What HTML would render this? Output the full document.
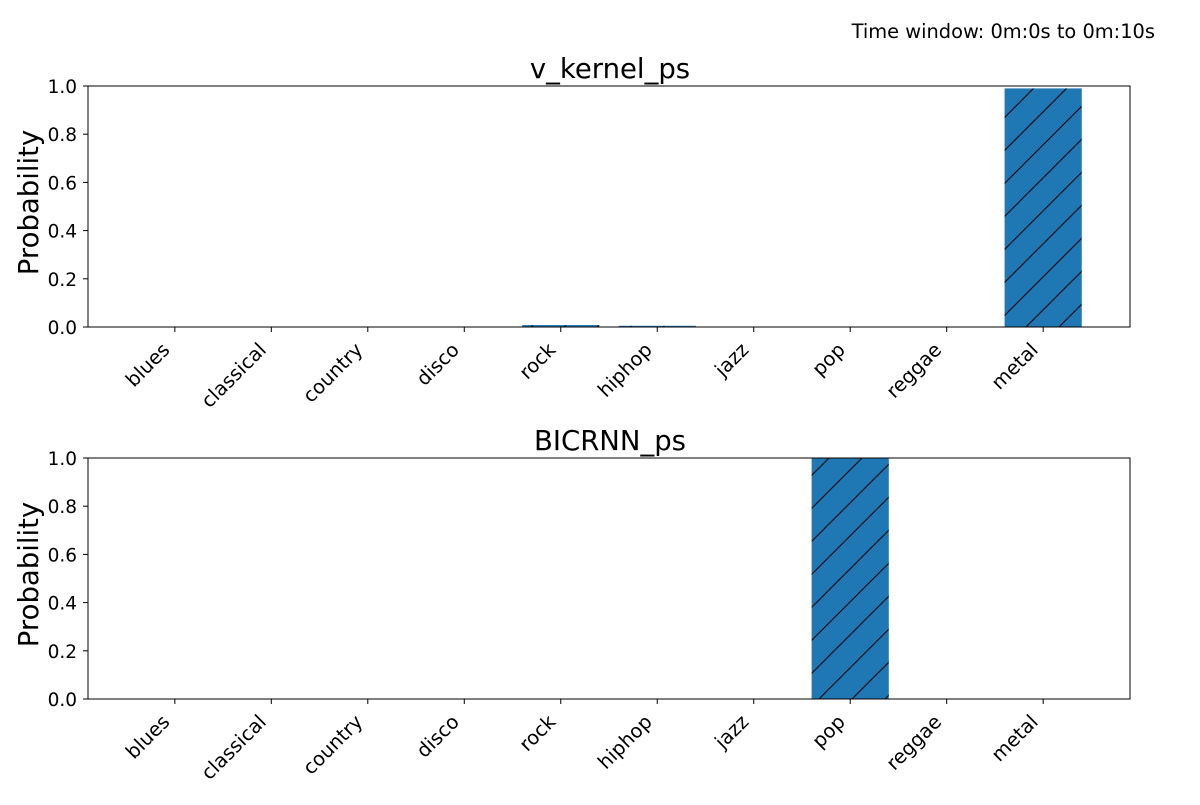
<!DOCTYPE html>
<html><head><meta charset="utf-8"><style>
body{margin:0;background:#fff;}
svg{font-family:"DejaVu Sans","Liberation Sans",sans-serif;}
</style></head><body>
<svg id="c" width="1200" height="800" xmlns="http://www.w3.org/2000/svg">
<defs>
<pattern id="hatch" patternUnits="userSpaceOnUse" width="33" height="33">
<rect width="33" height="33" fill="#1f77b4"/>
<path d="M0,33 L33,0 M-5,5 L5,-5 M28,38 L38,28" stroke="#000" stroke-width="1"/>
</pattern>
</defs>
<text x="1155" y="38" font-size="19.4" text-anchor="end">Time window: 0m:0s to 0m:10s</text>
</svg>
<script>
const categories=["blues","classical","country","disco","rock","hiphop","jazz","pop","reggae","metal"];
const vkernelValues=[0,0,0,0,0.008,0.005,0,0,0,0.99];
const bicrnnValues=[0,0,0,0,0,0,0,1.0,0,0];
const yTicks=[0,0.2,0.4,0.6,0.8,1.0];
const titles=["v_kernel_ps","BICRNN_ps"];
const svg=document.getElementById('c');
const NS='http://www.w3.org/2000/svg';
function mk(t,a,p){const e=document.createElementNS(NS,t);for(const k in a)e.setAttribute(k,a[k]);(p||svg).appendChild(e);return e;}
function panel(top,values,title,idx){
  const L=88,R=1130,T=top,B=top+241;
  const g=mk('g',{});
  
  
  const xs=i=>L+(i+0.9)/10.8*(R-L);
  const ys=v=>B-v*(B-T);
  const bw=0.8/10.8*(R-L);
  values.forEach((v,i)=>{
    const h=ys(0)-ys(v);
    const r=mk('rect',{x:xs(i)-bw/2,y:ys(v),width:bw,height:Math.max(h,0),fill:'url(#hatch)'},g);
    
    
  });
  mk('rect',{x:L,y:T,width:R-L,height:B-T,fill:'none',stroke:'#000','stroke-width':1},g);
  yTicks.forEach(t=>{
    mk('line',{x1:L-5,x2:L,y1:ys(t),y2:ys(t),stroke:'#000'},g);
    const tx=mk('text',{x:L-11,y:ys(t)+7,'font-size':18.5,'text-anchor':'end'},g);
    tx.textContent=t.toFixed(1);
    
    
  });
  categories.forEach((c,i)=>{
    mk('line',{x1:xs(i),x2:xs(i),y1:B,y2:B+5,stroke:'#000'},g);
    const ax=xs(i)-4, ay=B+24;
    const tx=mk('text',{x:ax,y:ay,'font-size':19.5,'text-anchor':'end',transform:`rotate(-45 ${ax} ${ay})`},g);
    tx.textContent=c;
    
    
  });
  const yx=38;
  const yl=mk('text',{x:yx,y:(T+B)/2-4,'font-size':27.5,'text-anchor':'middle',transform:`rotate(-90 ${yx} ${(T+B)/2-4})`},g);
  yl.textContent='Probability';
  
  
  const tt=mk('text',{x:(L+R)/2+1,y:T-8,'font-size':27.5,'text-anchor':'middle'},g);
  tt.textContent=title;
  
  
}
panel(86,vkernelValues,titles[0],0);
panel(458,bicrnnValues,titles[1],1);
</script>
</body></html>
